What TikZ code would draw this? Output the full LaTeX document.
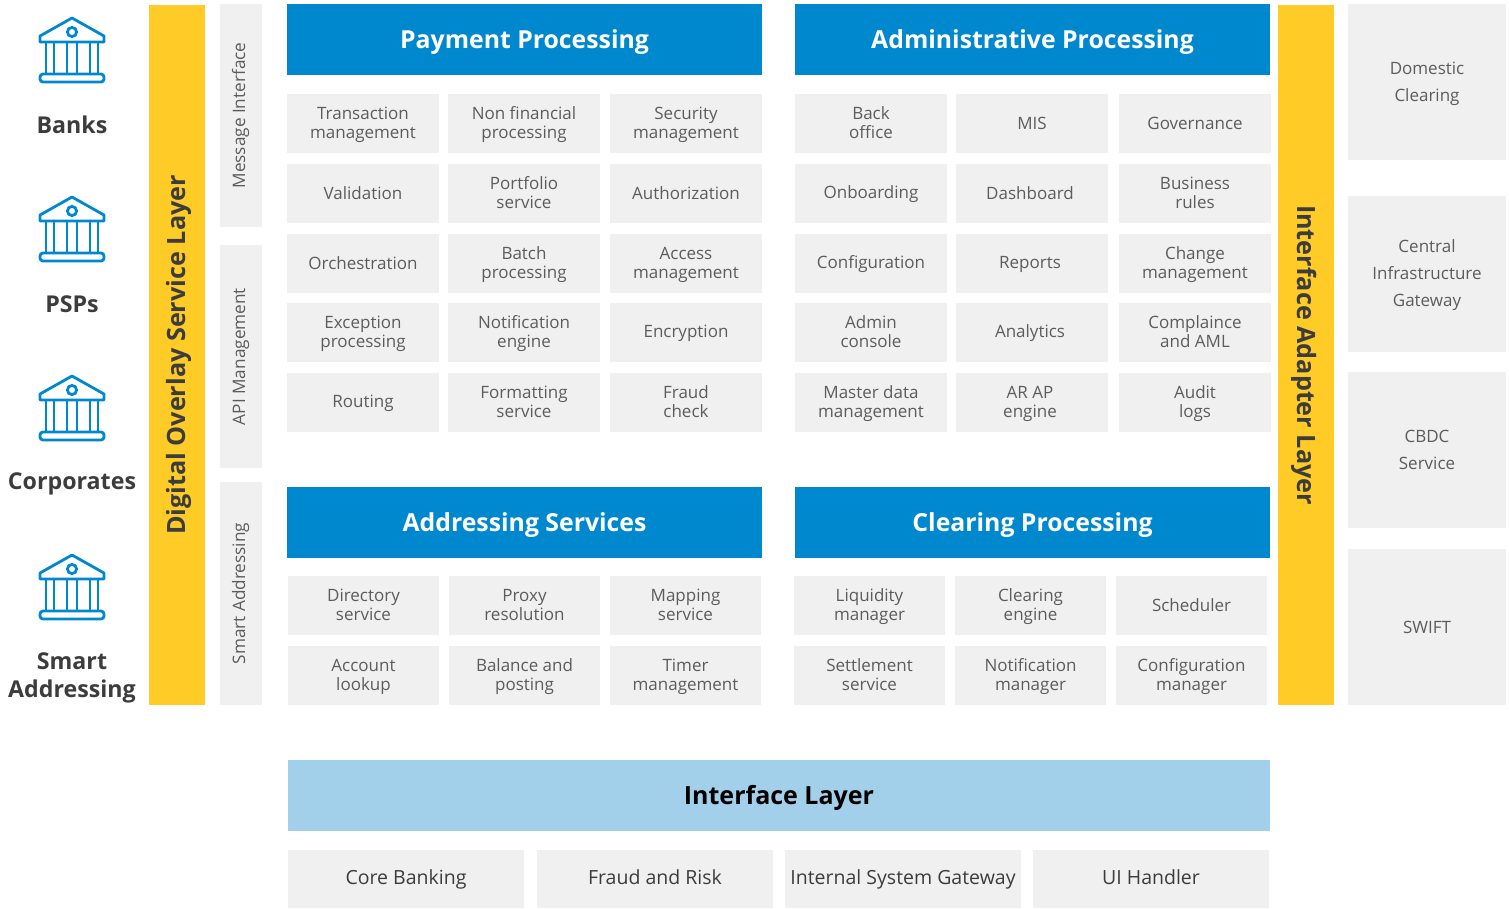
\documentclass[tikz,border=0pt]{standalone}
\usepackage{fontspec}
\usepackage{xcolor}
\setmainfont{Open Sans}
\definecolor{Head Blue}{HTML}{0088CE}
\definecolor{Soft Blue}{HTML}{A2CFE9}
\definecolor{Layer Yellow}{HTML}{FFCB27}
\definecolor{Cell Gray}{HTML}{F0F0F0}
\definecolor{Cell Text}{HTML}{5C5C5C}
\definecolor{Dark Text}{HTML}{3C3C3C}
\newcommand{\firstheight}{0pt}
\newcommand{\fs}{\rule{0pt}{\firstheight}}
\newcommand{\mv}{\kern4pt}

\begin{document}
\begin{tikzpicture}[x=1pt, y=-1pt]
  \tikzset{
    struts/.style 2 args={execute at begin node={\def\firstheight{#1pt}\rule[-#2pt]{0pt}{0pt}}},
    bank/.pic={
      \draw[Head Blue, line width=2.8pt, line join=round]
        (0,-32) -- (-32,-14) -- (-32,-8) -- (32,-8) -- (32,-14) -- cycle;
      \draw[Head Blue, line width=2.8pt] (0,-18) circle (4.6);
      \foreach \x in {-26,-18,-5,5,18,26}
        \draw[Head Blue, line width=2.8pt] (\x,-8) -- (\x,24);
      \draw[Head Blue, line width=2.8pt, rounded corners=3pt]
        (-32,32) rectangle (32,24);
    }
  }
  \tikzstyle{box} = [inner sep=0pt, align=center, text=Cell Text]
  \tikzstyle{cell} = [box, fill=Cell Gray, minimum width=152pt, minimum height=59pt, struts={15}{3.4}, font=\fontsize{17}{18.7}\selectfont]
  \tikzstyle{small cell} = [cell, minimum width=151pt]
  \tikzstyle{base cell} = [box, fill=Cell Gray, minimum width=236pt, minimum height=58pt, text=Dark Text, struts={15}{5}, font=\fontsize{19.5}{22}\selectfont]
  \tikzstyle{gateway} = [box, fill=Cell Gray, minimum width=158pt, minimum height=156pt, struts={15}{2.4}, font=\fontsize{17}{27}\selectfont]
  \tikzstyle{side} = [box, fill=Cell Gray, minimum width=223pt, minimum height=42pt, rotate=90, struts={13}{5}, font=\fontsize{17.2}{19}\selectfont]
  \tikzstyle{head} = [box, fill=Head Blue, text=white, minimum width=475pt, minimum height=71pt, struts={23}{2}, font=\fontsize{24.8}{28}\selectfont\bfseries]
  \tikzstyle{layer} = [box, fill=Layer Yellow, text=Dark Text, minimum width=700pt, minimum height=56pt, struts={23}{2}, font=\fontsize{25.2}{28}\selectfont\bfseries]
  \tikzstyle{party} = [inner sep=0pt, align=center, text=Dark Text, struts={19}{3.5}, font=\fontsize{23.2}{28}\selectfont\bfseries]

  \useasboundingbox (0,0) rectangle (1509,908);

  % Parties on the left
  \foreach \name/\y in {banks/50,psps/229,corporates/408,smart/587}
      \pic (\name) at (72,\y) {bank};
  \node[party] (banks-label) at (72,125.7) {\fs Banks};
  \node[party] (psps-label) at (72,304.7) {\fs PSPs};
  \node[party] (corporates-label) at (72,482.7) {\fs Corporates};
  \node[party] (smart-label) at (72,676.4) {\fs Smart\\Addressing};

  % The two yellow layers
  \node[layer, rotate=90] (overlay) at (177,355) {\fs Digital Overlay Service Layer};
  \node[layer, rotate=-90] (adapter) at (1306,355) {\fs Interface Adapter Layer};

  % Narrow side bars
  \node[side] (message) at (241,115.5) {\fs Message Interface};
  \node[side] (api) at (241,356.5) {\fs API Management};
  \node[side] (addressing) at (241,593.5) {\fs Smart Addressing};

  % Block headers
  \node[head] (payment) at (524.5,39.5) {\fs Payment Processing};
  \node[head] (admin) at (1032.5,39.5) {\fs Administrative Processing};
  \node[head] (addr) at (524.5,522.5) {\fs Addressing Services};
  \node[head] (clearing) at (1032.5,522.5) {\fs Clearing Processing};

  % Payment Processing cells
  \foreach \y/\a/\b/\c [count=\r] in {
      123.5/Transaction\\management/Non financial\\processing/Security\\management,
      193.5/Validation/Portfolio\\service/Authorization,
      263.5/Orchestration/Batch\\processing/Access\\management,
      332.5/Exception\\processing/Notification\\engine/Encryption,
      402.5/Routing/Formatting\\service/Fraud\\check} {
      \node[cell] (P-\r-1) at (363,\y) {\fs\a};
      \node[cell] (P-\r-2) at (524,\y) {\fs\b};
      \node[cell] (P-\r-3) at (686,\y) {\fs\c};
  }

  % Administrative Processing cells
  \foreach \y/\a/\b/\c [count=\r] in {
      123.5/Back\\office/MIS/Governance,
      193.5/Onboarding/Dashboard\mv/Business\\rules,
      263.5/Configuration/Reports\mv/Change\\management,
      332.5/Admin\\console/Analytics\mv/Complaince\\and AML,
      402.5/Master data\\management/AR AP\mv\\engine\mv/Audit\\logs} {
      \node[cell] (A-\r-1) at (871,\y) {\fs\a};
      \node[cell] (A-\r-2) at (1032,\y) {\fs\b};
      \node[cell] (A-\r-3) at (1195,\y) {\fs\c};
  }

  % Addressing Services cells
  \foreach \y/\a/\b/\c [count=\r] in {
      605.5/Directory\\service/Proxy\\resolution/Mapping\\service,
      675.5/Account\\lookup/Balance and\\posting/Timer\\management} {
      \node[small cell] (S-\r-1) at (363.5,\y) {\fs\a};
      \node[small cell] (S-\r-2) at (524.5,\y) {\fs\b};
      \node[small cell] (S-\r-3) at (685.5,\y) {\fs\c};
  }

  % Clearing Processing cells
  \foreach \y/\a/\b/\c [count=\r] in {
      605.5/Liquidity\\manager/Clearing\\engine/Scheduler,
      675.5/Settlement\\service/Notification\\manager/Configuration\\manager} {
      \node[small cell] (C-\r-1) at (869.5,\y) {\fs\a};
      \node[small cell] (C-\r-2) at (1030.5,\y) {\fs\b};
      \node[small cell] (C-\r-3) at (1191.5,\y) {\fs\c};
  }

  % Gateways on the right
  \node[gateway, struts={17}{2.4}] (domestic) at (1427,82) {\fs Domestic\\Clearing};
  \node[gateway] (central) at (1427,274) {\fs Central\\Infrastructure\\Gateway};
  \node[gateway] (cbdc) at (1427,450) {\fs CBDC\\Service};
  \node[gateway] (swift) at (1427,627) {\fs SWIFT};

  % Interface layer at the bottom
  \node[box, fill=Soft Blue, text=black, minimum width=982pt, minimum height=71pt, struts={23}{2}, font=\fontsize{25}{28}\selectfont\bfseries] (interface) at (779,795.5) {\fs Interface Layer};
  \foreach \x/\label [count=\i] in {406/Core Banking,655/Fraud and Risk,903/Internal System Gateway,1151/UI Handler}
      \node[base cell] (B-\i) at (\x,879) {\fs\label};
\end{tikzpicture}
\end{document}
